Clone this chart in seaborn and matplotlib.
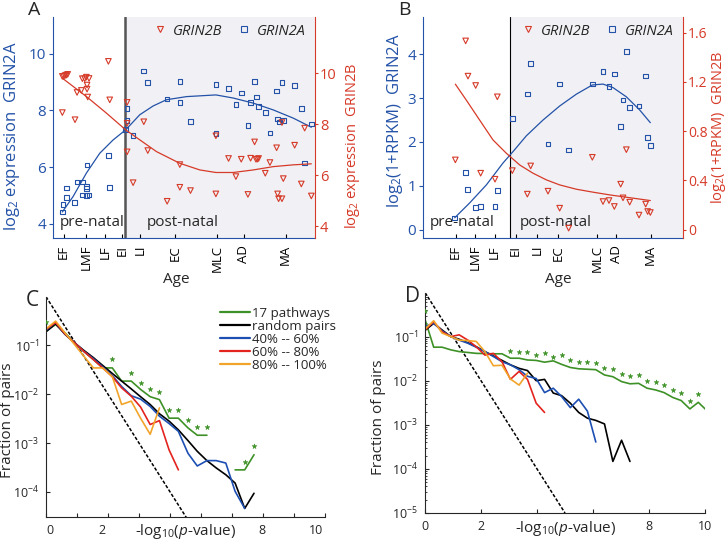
import numpy as np
import matplotlib
matplotlib.use("Agg")
import matplotlib.pyplot as plt
from matplotlib.lines import Line2D
import seaborn as sns

sns.set_style("ticks")
plt.rcParams['font.family'] = ['Open Sans', 'DejaVu Sans']
plt.rcParams.update({'mathtext.fontset': 'custom', 'mathtext.rm': 'Open Sans',
                     'mathtext.it': 'Open Sans:italic', 'mathtext.default': 'regular',
                     'font.size': 10})

BLUE = '#2352a8'
RED = '#d63a28'
SHADE = '#f1f1f5'
GREEN = '#3d9126'
LBLUE = '#1d4fb3'
LRED = '#e3231e'
ORANGE = '#f2a42a'

# ---- panel A (age axis in arbitrary position units) ----
a_ticks = [192, 260, 316, 368, 420, 525, 652, 732, 857]
age_labels = ['EF', 'LMF', 'LF', 'EI', 'LI', 'EC', 'MLC', 'AD', 'MA']

a_2a_x = [188, 190, 200, 200, 225, 232, 248, 248, 260, 260, 260, 262, 268, 326, 330, 382, 382, 378,
          400, 432, 444, 502, 540, 540, 572, 648, 648, 686, 708, 724, 744, 752, 764, 770, 776, 796,
          810, 830, 833, 838, 846, 850, 884, 904, 914, 934]
a_2a = [4.42, 4.68, 4.94, 5.26, 4.75, 5.48, 5.48, 5.02, 5.01, 5.32, 5.24, 6.08, 5.02, 6.41, 5.29,
        8.07, 7.65, 7.32, 7.11, 9.39, 8.99, 8.41, 9.02, 8.28, 7.62, 8.92, 7.18, 8.78, 8.22, 8.62,
        7.46, 8.28, 9.02, 8.47, 8.14, 7.93, 7.20, 8.69, 7.70, 7.60, 8.99, 7.65, 8.88, 8.06, 6.15, 7.53]
a_2b_x = [188, 192, 196, 200, 204, 188, 226, 232, 245, 248, 255, 260, 262, 262, 264, 268, 326, 330,
          382, 382, 382, 400, 432, 444, 502, 540, 540, 572, 648, 648, 686, 708, 724, 744, 752, 764,
          768, 772, 776, 796, 810, 830, 833, 836, 846, 846, 850, 884, 904, 914, 934]
a_2b = [9.87, 9.87, 9.90, 9.92, 9.95, 8.45, 8.17, 9.24, 9.32, 9.78, 9.78, 9.84, 9.53, 9.37, 9.06,
        9.79, 10.46, 8.95, 8.85, 8.03, 6.91, 5.70, 8.09, 6.96, 4.97, 6.41, 5.52, 5.39, 7.54, 5.26,
        6.65, 5.94, 6.62, 5.24, 6.66, 7.30, 6.62, 6.62, 6.65, 6.07, 6.49, 7.07, 5.26, 5.07, 5.07,
        8.06, 5.86, 7.17, 5.65, 7.84, 5.18]
a_fit2a_x = [188, 220, 260, 300, 340, 378, 420, 460, 500, 560, 648, 700, 760, 820, 880, 934]
a_fit2a = [4.42, 4.96, 5.79, 6.49, 6.96, 7.32, 7.85, 8.16, 8.38, 8.49, 8.55, 8.44, 8.26, 8.02, 7.73, 7.41]
a_fit2b_x = [188, 260, 320, 378, 420, 470, 540, 600, 648, 700, 760, 820, 880, 934]
a_fit2b = [9.80, 9.08, 8.43, 7.77, 7.38, 6.92, 6.46, 6.20, 6.10, 6.10, 6.20, 6.33, 6.40, 6.44]

# ---- panel B ----
b_ticks = [288, 347, 405, 468, 533, 595, 712, 770, 873]
b_2a_x = [285, 318, 324, 348, 363, 406, 413, 458, 503, 513, 565, 600, 627, 698, 730, 748, 764, 783,
          790, 800, 810, 838, 858, 864, 872]
b_2a = [0.27, 1.30, 0.92, 0.50, 0.53, 0.53, 0.89, 2.54, 3.09, 3.79, 1.95, 3.32, 1.82, 3.32, 3.61,
        3.27, 3.55, 2.35, 2.96, 4.07, 2.78, 2.82, 3.50, 2.10, 1.92]
b_2b_x = [287, 318, 325, 348, 363, 406, 413, 458, 513, 503, 565, 600, 627, 698, 730, 748, 764, 783,
          790, 800, 810, 838, 858, 864, 872]
b_2b = [0.567, 1.533, 1.247, 1.171, 0.459, 0.41, 1.079, 0.48, 0.518, 0.289, 0.313, 0.175, 0.013,
        0.588, 0.229, 0.237, 0.189, 0.37, 0.259, 0.65, 0.224, 0.119, 0.208, 0.148, 0.14]
b_fit2a_x = [285, 330, 380, 430, 460, 500, 550, 600, 650, 698, 730, 760, 800, 840, 872]
b_fit2a = [0.27, 0.61, 1.02, 1.52, 1.78, 2.14, 2.50, 2.82, 3.09, 3.30, 3.32, 3.24, 3.03, 2.73, 2.44]
b_fit2b_x = [287, 320, 360, 400, 440, 480, 520, 560, 600, 650, 700, 750, 800, 872]
b_fit2b = [1.182, 1.052, 0.89, 0.729, 0.621, 0.526, 0.459, 0.405, 0.364, 0.329, 0.305, 0.283, 0.264, 0.237]

# ---- panels C, D: -log10(p) bins, log10 of fraction of pairs ----
bins = [0, 0.31, 0.61, 0.92, 1.22, 1.53, 1.83, 2.14, 2.44, 2.75, 3.05, 3.36, 3.66, 3.97, 4.27, 4.58,
        4.88, 5.19, 5.49, 5.8, 6.1, 6.41, 6.71, 7.02, 7.32, 7.63, 7.93, 8.24, 8.54, 8.85, 9.15, 9.46,
        9.76, 10.07]
ref_x = [0, 5]
ref_log = [0, -5]

c_random = [-0.72, -0.555, -0.77, -0.945, -1.10, -1.25, -1.41, -1.575, -1.73, -1.89, -2.05, -2.21,
            -2.40, -2.55, -2.73, -2.95, -3.17, -3.36, -3.51, -3.65, -3.82, -4.34, -4.03]
c_40 = [-0.685, -0.53, -0.76, -0.945, -1.12, -1.27, -1.44, -1.62, -1.84, -2.03, -2.10, -2.25, -2.45,
        -2.60, -2.76, -3.21, -3.47, -3.36, -3.36, -3.41, -3.99, -4.34]
c_60 = [-0.67, -0.53, -0.76, -0.945, -1.12, -1.29, -1.46, -1.64, -1.87, -2.04, -2.26, -2.62, -2.54,
        -3.14, -3.55]
c_80 = [-0.66, -0.50, -0.74, -0.98, -1.22, -1.46, -1.46, -1.64, -2.21, -2.14, -2.49, -2.82, -2.28]
c_path = [-0.705, -0.57, -0.74, -0.945, -1.12, -1.29, -1.46, -1.46, -1.73, -1.73, -1.90, -2.05, -2.11,
          -2.49, -2.49, -2.69, -2.84, -2.84, np.nan, np.nan, -3.55, -3.55, -3.24]
c_star_x = [0, 2.14, 2.75, 3.05, 3.36, 3.66, 3.97, 4.27, 4.58, 4.88, 5.19, 6.41, 6.71]
c_star = [-0.51, -1.27, -1.56, -1.77, -1.89, -1.95, -2.33, -2.33, -2.52, -2.67, -2.67, -3.38, -3.07]

d_random = [-0.86, -0.70, -0.85, -1.0, -1.06, -1.14, -1.23, -1.34, -1.44, -1.54, -1.64, -1.72, -1.77,
            -2.0, -1.97, -2.28, -2.34, -2.51, -2.72, -2.85, -2.90, -2.98, -3.83, -3.35, -3.83]
d_40 = [-0.77, -0.70, -0.87, -1.0, -1.08, -1.15, -1.24, -1.34, -1.45, -1.57, -1.64, -1.75, -1.90,
        -1.95, -2.27, -2.17, -2.36, -2.61, -2.42, -2.69, -3.39]
d_60 = [-0.85, -0.66, -0.89, -1.0, -0.96, -1.08, -1.23, -1.42, -1.38, -1.57, -1.97, -1.79, -1.97,
        -2.51, -2.72]
d_80 = [-0.83, -0.64, -0.92, -1.0, -1.08, -1.09, -1.11, -1.34, -1.66, -1.65, -1.96, -2.10, -1.83]
d_path = [-0.61, -1.24, -1.24, -1.30, -1.34, -1.36, -1.38, -1.385, -1.39, -1.39, -1.49, -1.49, -1.53,
          -1.54, -1.58, -1.55, -1.63, -1.70, -1.73, -1.74, -1.75, -1.87, -1.91, -2.02, -2.07, -2.06,
          -2.17, -2.21, -2.27, -2.38, -2.45, -2.64, -2.49, -2.68]
d_star_x = [0, 3.05, 3.36, 3.66, 3.97, 4.27, 4.58, 4.88, 5.19, 5.49, 5.8, 6.1, 6.41, 6.71, 7.02,
            7.32, 7.63, 7.93, 8.24, 8.54, 8.85, 9.15, 9.46, 9.76]
d_star = [-0.41, -1.32, -1.35, -1.35, -1.41, -1.38, -1.47, -1.42, -1.54, -1.57, -1.58, -1.59, -1.72,
          -1.73, -1.85, -1.89, -1.87, -2.00, -2.03, -2.09, -2.21, -2.28, -2.46, -2.31]

W, H = 727, 540
fig = plt.figure(figsize=(W / 100, H / 100), dpi=100)


def rect(l, r, t, b):
    return [l / W, 1 - b / H, (r - l) / W, (b - t) / H]


def age_panel(box, xlim, birth, ticks, d2a, d2b, f2a, f2b, yl, yr, ytl, ytr, ytr_lab,
              lab_l, lab_r, lpos, rpos, vcol, vlw, post_x, letter, agex, rsize):
    ax = fig.add_axes(box)
    ax.axvspan(birth, xlim[1], color=SHADE, lw=0, zorder=0)
    ax.axvline(birth, color=vcol, lw=vlw, zorder=1)
    ax2 = ax.twinx()
    sns.scatterplot(x=d2a[0], y=d2a[1], ax=ax, marker='s', s=11, facecolors='none',
                    edgecolor=BLUE, linewidth=0.8, zorder=3)
    sns.lineplot(x=f2a[0], y=f2a[1], ax=ax, color=BLUE, lw=0.9, estimator=None)
    sns.scatterplot(x=d2b[0], y=d2b[1], ax=ax2, marker='v', s=16, facecolors='none',
                    edgecolor=RED, linewidth=0.8, zorder=3)
    sns.lineplot(x=f2b[0], y=f2b[1], ax=ax2, color=RED, lw=0.9, estimator=None)
    ax.set_xlim(xlim)
    ax.set_ylim(yl)
    ax2.set_ylim(yr)
    ax.set_yticks(ytl)
    ax2.set_yticks(ytr, ytr_lab)
    ax.set_xticks(ticks, age_labels, rotation=90)
    ax.tick_params(axis='x', direction='in', length=3, colors='black', labelsize=9.5, pad=5)
    ax.tick_params(axis='y', direction='out', length=3, colors=BLUE, labelsize=11, pad=2)
    ax2.tick_params(axis='y', direction='out', length=2.5, colors=RED, labelsize=rsize, pad=1)
    for s in ['top', 'right']:
        ax.spines[s].set_visible(False)
    for s in ['top', 'left', 'bottom']:
        ax2.spines[s].set_visible(False)
    ax.spines['left'].set_color(BLUE)
    ax.spines['bottom'].set_color(BLUE)
    ax2.spines['right'].set_color(RED)
    ax.set_ylabel(lab_l, color=BLUE, fontsize=12)
    ax.yaxis.set_label_coords(*lpos)
    ax2.set_ylabel(lab_r, color=RED, fontsize=10.5)
    ax2.yaxis.set_label_coords(*rpos)
    ax.set_xlabel('Age', fontsize=11)
    ax.xaxis.set_label_coords(agex, -0.155)
    ax.text(0.027, 0.068, 'pre-natal', transform=ax.transAxes, fontsize=11, va='center')
    ax.text(post_x, 0.068, 'post-natal', transform=ax.transAxes, fontsize=11, va='center')
    handles = [Line2D([], [], marker='v', ls='none', mfc='none', mec=RED, ms=5, mew=0.8),
               Line2D([], [], marker='s', ls='none', mfc='none', mec=BLUE, ms=4, mew=0.8)]
    ax2.legend(handles, ['GRIN2B', 'GRIN2A'], loc='upper right', bbox_to_anchor=(1.0, 1.01),
               ncol=2, frameon=False, prop={'style': 'italic', 'size': 10.5},
               handletextpad=0.4, columnspacing=1.0, handlelength=1.0, borderaxespad=0.2)
    fig.text(box[0] - 25 / W, 1 - 10 / H, letter, fontsize=14, va='center')
    return ax


age_panel(rect(53, 315, 17, 238), (160, 945), 375, a_ticks, (a_2a_x, a_2a), (a_2b_x, a_2b),
          (a_fit2a_x, a_fit2a), (a_fit2b_x, a_fit2b), (3.5, 11.3), (3.53, 12.2),
          [4, 6, 8, 10], [4, 6, 8, 10], ['4', '6', '8', '10'],
          'log$_2$ expression  GRIN2A', 'log$_2$ expression  GRIN2B',
          (-0.12, 0.46), (1.107, 0.416), '#555555', 1.8, 0.359, 'A', 0.47, 10.5)

age_panel(rect(423, 683, 17, 238), (190, 970), 450, b_ticks, (b_2a_x, b_2a), (b_2b_x, b_2b),
          (b_fit2a_x, b_fit2a), (b_fit2b_x, b_fit2b), (-0.19, 4.85), (-0.067, 1.727),
          [0, 1, 2, 3, 4], [0, 0.4, 0.8, 1.2, 1.6], ['0', '0.4', '0.8', '1.2', '1.6'],
          'log$_2$(1+RPKM)  GRIN2A', 'log$_2$(1+RPKM)  GRIN2B',
          (-0.069, 0.53), (1.1, 0.5), 'black', 0.8, 0.373, 'B', 0.52, 10)


def pval_panel(box, xlim, ylim, series, star, letter, lab_pos, minor_y):
    ax = fig.add_axes(box)
    ax.set_yscale('log')
    ref = sns.lineplot(x=ref_x, y=10.0 ** np.array(ref_log), ax=ax, color='black', lw=1.1,
                       estimator=None)
    ref.get_lines()[-1].set_dashes([2.2, 1.2])
    for vals, col in series:
        v = np.array(vals, dtype=float)
        x = np.array(bins[:len(v)])
        # split into runs so gaps are not bridged
        idx = np.where(~np.isnan(v))[0]
        runs = np.split(idx, np.where(np.diff(idx) > 1)[0] + 1)
        for r in runs:
            sns.lineplot(x=x[r], y=10.0 ** v[r], ax=ax, color=col, lw=1.2, estimator=None)
    sns.scatterplot(x=star[0], y=10.0 ** np.array(star[1]), ax=ax, marker='*', s=13,
                    color=GREEN, edgecolor=GREEN, linewidth=0.4, zorder=4)
    ax.set_xlim(xlim)
    ax.set_ylim(ylim)
    for s in ['top', 'right']:
        ax.spines[s].set_visible(False)
    ax.tick_params(direction='in', length=3, labelsize=9, pad=5)
    ax.tick_params(which='minor', direction='in', length=1.5)
    if not minor_y:
        ax.yaxis.set_minor_locator(matplotlib.ticker.NullLocator())
    ax.set_ylabel('Fraction of pairs', fontsize=11)
    ax.yaxis.set_label_coords(*lab_pos)
    ax.set_xlabel('-log$_{10}$($\\mathit{p}$-value)', fontsize=11, va='top')
    ax.xaxis.set_label_coords(0.5, -0.025)
    fig.text(box[0] - 20 / W, box[1] + box[3] - 4 / H, letter, fontsize=15, va='center')
    return ax


line_sets_c = [(c_path, GREEN), (c_random, 'black'), (c_40, LBLUE), (c_60, LRED), (c_80, ORANGE)]
axC = pval_panel(rect(46, 325, 296.7, 516.7), (0, 9), (10 ** -4.51, 1), line_sets_c,
                 (c_star_x, c_star), 'C', (-0.11, 0.44), False)
axC.set_yticks([1e-1, 1e-2, 1e-3, 1e-4], ['10$^{-1}$', '10$^{-2}$', '10$^{-3}$', '10$^{-4}$'])
axC.set_xticks(range(10), [''] * 10)
axC.set_xticks([0.13, 1.8, 6.98, 8.7], ['0', '2', '8', '10'], minor=True)
axC.tick_params(axis='x', which='minor', length=0, labelsize=9, pad=5)

leg_handles = [Line2D([], [], color=c, lw=1.6) for c in [GREEN, 'black', LBLUE, LRED, ORANGE]]
axC.legend(leg_handles, ['17 pathways', 'random pairs', '40% -- 60%', '60% -- 80%', '80% -- 100%'],
           loc='upper left', bbox_to_anchor=(0.595, 0.99), frameon=False, fontsize=9.5,
           handlelength=2.3, handletextpad=0.1, labelspacing=0.0, borderaxespad=0.2)

line_sets_d = [(d_path, GREEN), (d_random, 'black'), (d_40, LBLUE), (d_60, LRED), (d_80, ORANGE)]
axD = pval_panel(rect(425, 705, 292.5, 513), (0, 10), (1e-5, 1), line_sets_d,
                 (d_star_x, d_star), 'D', (-0.139, 0.435), True)
axD.set_yticks([1e-1, 1e-2, 1e-3, 1e-4, 1e-5],
               ['10$^{-1}$', '10$^{-2}$', '10$^{-3}$', '10$^{-4}$', '10$^{-5}$'])
axD.set_xticks([0, 2, 4, 6, 8, 10], ['0', '2', '', '', '8', '10'])

fig.savefig('out.png', dpi=100)
